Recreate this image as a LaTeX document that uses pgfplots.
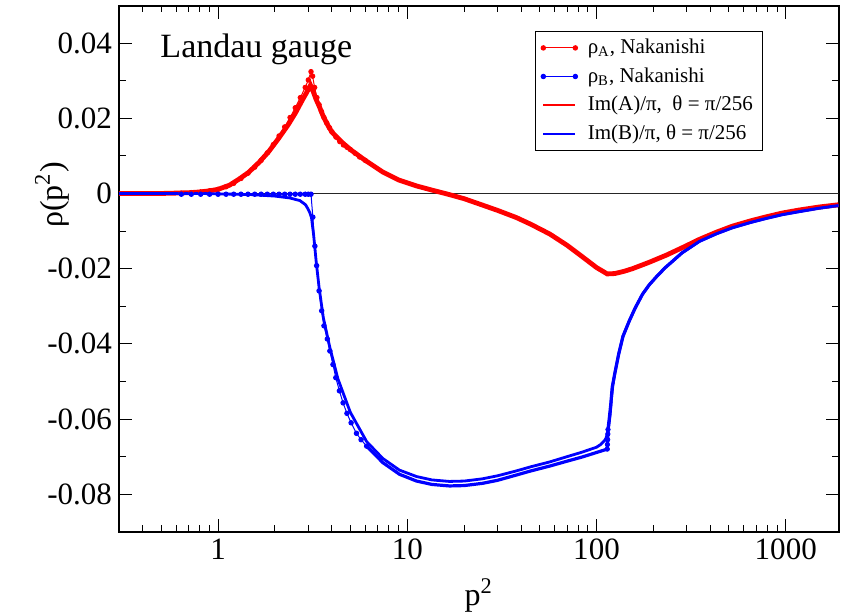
\documentclass[border=0pt]{standalone}
\usepackage{fontspec}
\setmainfont{Liberation Serif}
\usepackage{pgfplots}
\pgfplotsset{compat=1.18}
\pgfplotsset{
    dotleg/.style={legend image code/.code={\draw[##1, mark repeat=2, mark phase=1] plot coordinates {(0pt,0pt) (8pt,0pt) (16pt,0pt)}; \path (19pt,0pt);}},
    lineleg/.style={legend image code/.code={\draw[##1, line width=1pt] (0pt,0pt) -- (16pt,0pt); \path (19pt,0pt);}},
}
\begin{document}
\begin{tikzpicture}
\begin{axis}[
    name=ax,
    scale only axis,
    width=359.5pt, height=263pt,
    xmode=log,
    xmin=0.3, xmax=1900,
    ymin=-0.09, ymax=0.05,
    xtick={1,10,100,1000},
    xticklabels={1,10,100,1000},
    minor xtick={0.4,0.5,0.6,0.7,0.8,0.9,2,3,4,5,6,7,8,9,20,30,40,50,60,70,80,90,200,300,400,500,600,700,800,900},
    ytick={-0.08,-0.06,-0.04,-0.02,0,0.02,0.04},
    yticklabels={-0.08,-0.06,-0.04,-0.02,0,0.02,0.04},
    minor y tick num=1,
    major tick length=6.5pt,
    minor tick length=3.3pt,
    every tick/.style={black, line width=0.5pt},
    axis line style={line width=1pt},
    tick label style={font=\fontsize{15.5}{18}\selectfont},
    xlabel={p\textsuperscript{2}},
    xlabel style={at={(axis description cs:0.5,0)}, anchor=base, yshift=-37pt, font=\fontsize{16}{19}\selectfont},
    ylabel={ρ(p\textsuperscript{2})},
    ylabel style={at={(axis description cs:-0.093,0.64)}, anchor=center, font=\fontsize{16}{19}\selectfont},
    legend style={at={(axis description cs:0.8957,0.9525)}, anchor=north east,
        font=\fontsize{10.5}{12}\selectfont, draw=black, line width=0.6pt,
        inner xsep=3pt, inner ysep=2pt, row sep=1.5pt},
    legend cell align=left,
]
\draw[black!85, line width=0.5pt] (axis cs:0.3,0) -- (axis cs:1900,0);

% rho_A, Nakanishi
\addplot[red, line width=0.5pt, mark=*, mark size=1.1pt, dotleg]
coordinates {
(0.64,0.0001)(0.7225,0.0002)(0.81,0.0004)(0.9025,0.0007)(1.0,0.0011)(1.1025,0.0018)
(1.21,0.0027)(1.3225,0.0040)(1.44,0.0054)(1.5625,0.0070)(1.69,0.0088)(1.8225,0.0108)
(1.96,0.0130)(2.1025,0.0153)(2.25,0.0177)(2.4025,0.0202)(2.56,0.0228)(2.7225,0.0255)
(2.89,0.0282)(3.0,0.0302)(3.1,0.0324)(3.16,0.0312)(3.24,0.0282)(3.33,0.0255)
(3.42,0.0236)(3.52,0.0218)(3.63,0.0202)(3.75,0.0188)(3.88,0.0175)(4.0,0.0164)
(4.2,0.0150)(4.4,0.0138)(4.6,0.0129)(4.8,0.0123)(5.0,0.0117)(5.3,0.0107)(5.6,0.0097)(6.0,0.0088)
};
\addlegendentry{ρ\textsubscript{A}, Nakanishi}

% rho_B, Nakanishi
\addplot[blue, line width=0.5pt, mark=*, mark size=1.1pt, dotleg]
coordinates {
(0.64,-0.0002)(0.7225,-0.0002)(0.81,-0.0002)(0.9025,-0.0002)(1.0,-0.0002)(1.1025,-0.0002)
(1.21,-0.0002)(1.3225,-0.0002)(1.44,-0.0002)(1.5625,-0.0002)(1.69,-0.0002)(1.8225,-0.0002)
(1.96,-0.0002)(2.1025,-0.0002)(2.25,-0.0002)(2.4025,-0.0002)(2.56,-0.0002)(2.7225,-0.0002)
(2.89,-0.0002)(3.0,-0.0002)(3.1,-0.0002)(3.17,-0.0063)(3.25,-0.0140)(3.32,-0.0192)
(3.42,-0.0259)(3.53,-0.0312)(3.63,-0.0352)(3.78,-0.0387)(3.9,-0.0419)(4.05,-0.0455)
(4.19,-0.0490)(4.38,-0.0525)(4.58,-0.0557)(4.8,-0.0585)(5.05,-0.0610)(5.39,-0.0638)
(5.7,-0.0655)(6.1,-0.0672)
};
\addlegendentry{ρ\textsubscript{B}, Nakanishi}
\addplot[blue, line width=1.6pt, forget plot] coordinates {
(6.1,-0.0672)(7.43,-0.0716)(9.1,-0.0747)(11.2,-0.0765)(13.5,-0.0774)(16.7,-0.0778)
(20,-0.0777)(25,-0.0771)(30,-0.0763)(37.7,-0.0749)(45,-0.0738)(56.7,-0.0725)
(70,-0.0712)(84,-0.0701)(100,-0.0689)(114,-0.0680)(114.5,-0.0655)(115,-0.0628)
(117,-0.0595)(119,-0.0560)(121,-0.0516)(125,-0.0478)(131,-0.0427)(138,-0.0380)
(149,-0.0339)(160,-0.0305)(175,-0.0268)(190,-0.0243)(207,-0.0222)(230,-0.0198)
(250,-0.0182)(283,-0.0158)(350,-0.0127)(430,-0.0107)(522,-0.0091)(650,-0.0077)
(790,-0.0066)(960,-0.0056)(1178,-0.0048)(1500,-0.0039)(1900,-0.0032)
};
\addplot[blue, only marks, mark=*, mark size=1.1pt, forget plot] coordinates {
(114,-0.0680)(114.2,-0.0668)(114.5,-0.0655)(114.8,-0.0640)(115,-0.0628)
};

% Im(A)/pi
\addplot[red, line width=2.4pt, lineleg]
coordinates {
(0.3,0)(0.5,0.0000)(0.6,0.0001)(0.7,0.0002)(0.8,0.0004)(0.9,0.0007)(1.0,0.0011)
(1.15,0.0022)(1.29,0.0038)(1.45,0.0056)(1.65,0.0083)(1.85,0.0111)(2.1,0.0148)
(2.35,0.0183)(2.57,0.0215)(2.8,0.0250)(2.95,0.0270)(3.08,0.0288)(3.18,0.0272)
(3.3,0.0250)(3.42,0.0233)(3.6,0.0205)(3.8,0.0182)(4.0,0.0163)(4.5,0.0137)
(5.0,0.0117)(6.0,0.0088)(7.43,0.0057)(9.0,0.0036)(11.2,0.0020)(13.5,0.0009)
(16.7,-0.0003)(20,-0.0014)(25,-0.0031)(30,-0.0045)(37.7,-0.0064)(45,-0.0082)
(56.7,-0.0108)(70,-0.0138)(84,-0.0168)(100,-0.0197)(114,-0.0214)(125,-0.0213)
(140,-0.0207)(155,-0.0200)(190,-0.0183)(234,-0.0164)(290,-0.0142)(350,-0.0122)
(430,-0.0103)(522,-0.0087)(650,-0.0073)(790,-0.0062)(960,-0.0052)(1178,-0.0044)
(1500,-0.0036)(1900,-0.0030)
};
\addlegendentry{Im(A)/π, \ θ = π/256}

% Im(B)/pi
\addplot[blue, line width=1.4pt, lineleg]
coordinates {
(0.3,0)(0.8,0)(1.0,-0.0001)(1.5,-0.0003)(2.0,-0.0007)(2.4,-0.0012)(2.71,-0.0019)
(2.9,-0.0030)(2.98,-0.0040)(3.05,-0.0050)(3.12,-0.0065)(3.2,-0.0110)(3.3,-0.0180)
(3.42,-0.0250)(3.6,-0.0330)(3.9,-0.0410)(4.3,-0.0493)(5.0,-0.0582)(6.1,-0.0660)
(7.43,-0.0705)(9.1,-0.0736)(11.2,-0.0753)(13.5,-0.0762)(16.7,-0.0766)(20,-0.0765)
(25,-0.0759)(30,-0.0751)(37.7,-0.0738)(45,-0.0727)(56.7,-0.0714)(70,-0.0700)
(84,-0.0688)(100,-0.0675)(105,-0.0668)(110,-0.0658)(112,-0.0652)(114,-0.0640)
(116,-0.0620)(118,-0.0590)(120,-0.0545)(122,-0.0510)(125,-0.0478)(131,-0.0427)
(138,-0.0380)(149,-0.0339)(160,-0.0305)(175,-0.0268)(190,-0.0243)(207,-0.0222)
(230,-0.0198)(250,-0.0182)(283,-0.0158)(350,-0.0127)(430,-0.0107)(522,-0.0091)
(650,-0.0077)(790,-0.0066)(960,-0.0056)(1178,-0.0048)(1500,-0.0039)(1900,-0.0032)
};
\addlegendentry{Im(B)/π, θ = π/256}

\node[anchor=base west, inner sep=0pt, font=\fontsize{17}{20}\selectfont]
    at (axis description cs:0.057,0.902) {Landau gauge};
\end{axis}
\pgfresetboundingbox
\path[use as bounding box] ([shift={(-59.5pt,-40.75pt)}]ax.south west) rectangle ([shift={(3.25pt,2.75pt)}]ax.north east);
\end{tikzpicture}
\end{document}
